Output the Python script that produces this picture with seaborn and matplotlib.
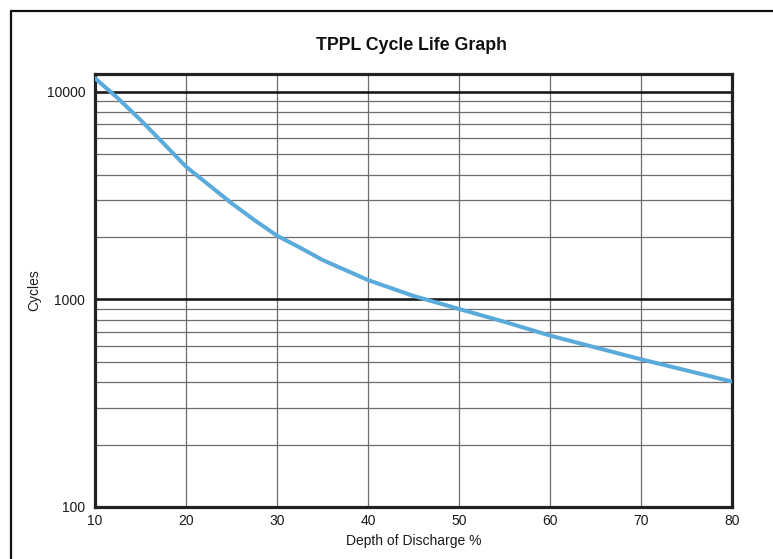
import matplotlib
matplotlib.use("Agg")
import matplotlib.pyplot as plt
import seaborn as sns
import pandas as pd
from matplotlib.ticker import LogLocator, NullFormatter, FixedLocator
from matplotlib.lines import Line2D

# values
depth = [10, 12.5, 15, 17.5, 20, 22.5, 25, 27.5, 30, 32.5, 35, 40, 45, 50, 55, 60, 65, 70, 75, 80]
cycles = [11640, 9330, 7330, 5665, 4365, 3565, 2910, 2415, 2030, 1780, 1550, 1240, 1040,
          900, 780, 670, 587, 515, 455, 402]
x_ticks = [10, 20, 30, 40, 50, 60, 70, 80]
y_ticks = [100, 1000, 10000]
y_tick_labels = ["100", "1000", "10000"]

df = pd.DataFrame({"Depth of Discharge %": depth, "Cycles": cycles})

sns.set_style("white")
plt.rcParams['font.family'] = ['Liberation Sans', 'DejaVu Sans']

fig = plt.figure(figsize=(7.73, 5.59), dpi=100)
ax = fig.add_axes([95 / 773, 52 / 559, 637 / 773, 433 / 559])

sns.lineplot(data=df, x="Depth of Discharge %", y="Cycles", ax=ax,
             color="#5aaadb", linewidth=2.9, zorder=5)

ax.set_yscale("log")
ax.set_xlim(10, 80)
ax.set_ylim(100, 12200)

ax.set_xticks(x_ticks)
ax.set_xticklabels([str(v) for v in x_ticks])
ax.yaxis.set_major_locator(FixedLocator(y_ticks))
ax.set_yticklabels(y_tick_labels)
ax.yaxis.set_minor_locator(LogLocator(base=10, subs=range(2, 10)))
ax.yaxis.set_minor_formatter(NullFormatter())

ax.tick_params(axis="both", which="both", length=0, labelsize=10, colors="#1a1a1a")
ax.tick_params(axis="x", pad=5)
ax.tick_params(axis="y", pad=7)

# grid: gray verticals + minor horizontals, black decades
ax.set_axisbelow(True)
ax.grid(True, axis="x", which="major", color="#6e6e6e", linewidth=0.9)
ax.grid(True, axis="y", which="minor", color="#6e6e6e", linewidth=0.9)
ax.grid(True, axis="y", which="major", color="#1a1a1a", linewidth=1.9)

for sp in ax.spines.values():
    sp.set_visible(True)
    sp.set_color("#222222")
    sp.set_linewidth(2.3)

ax.set_xlabel("Depth of Discharge %", fontsize=10, labelpad=4, color="#1a1a1a")
ax.set_ylabel("Cycles", fontsize=10, labelpad=4, color="#1a1a1a")

fig.text(411 / 773, 1 - 46 / 559, "TPPL Cycle Life Graph", ha="center", va="center",
         fontsize=12.8, fontweight="bold", color="#111111")

# outer frame: only the top and left edges show, the rest is cropped off
fx, fy = 10.5 / 773, 1 - 10.5 / 559
fig.add_artist(Line2D([fx, 1.1], [fy, fy], transform=fig.transFigure,
                      color="#111111", linewidth=1.6))
fig.add_artist(Line2D([fx, fx], [fy, -0.1], transform=fig.transFigure,
                      color="#111111", linewidth=1.6))

fig.savefig("out.png", dpi=100)
